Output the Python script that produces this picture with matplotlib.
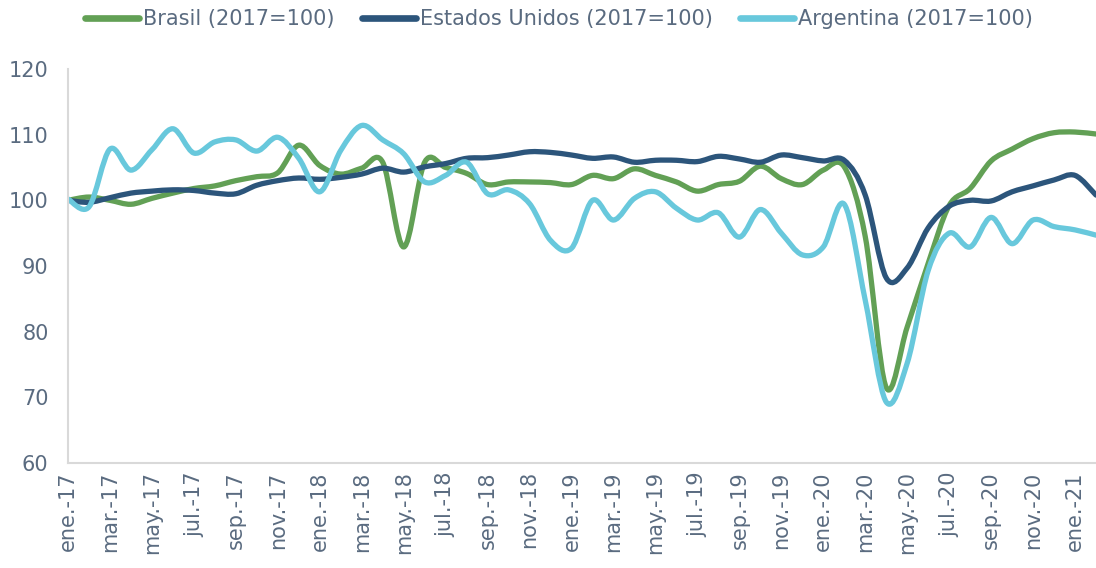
"""Monthly activity index, Brasil / Estados Unidos / Argentina (2017=100), ene.-17 to feb.-21.

Writes out.png. Lines are drawn as smoothed Bezier curves through the monthly points,
the way the original spreadsheet chart renders them.
"""

import matplotlib

matplotlib.use("Agg")
import matplotlib.pyplot as plt
import numpy as np
from matplotlib.lines import Line2D
from matplotlib.patches import PathPatch
from matplotlib.path import Path

MONTHS = ["ene", "feb", "mar", "abr", "may", "jun", "jul", "ago", "sep", "oct", "nov", "dic"]
YEARS = ["17", "18", "19", "20", "21"]
N_POINTS = 50  # ene.-17 .. feb.-21

brasil = [
    100.0, 100.5, 100.0, 99.4, 100.3, 101.1, 101.8, 102.2, 103.0, 103.6, 104.2, 108.4,
    105.3, 104.0, 104.9, 105.8, 92.9, 105.8, 105.0, 104.1, 102.4, 102.8, 102.8, 102.7,
    102.4, 103.8, 103.3, 104.8, 103.8, 102.8, 101.4, 102.4, 102.9, 105.2, 103.3, 102.4,
    104.6, 105.1, 94.5, 71.5, 80.7, 90.4, 99.2, 101.8, 106.0, 107.8, 109.4, 110.3,
    110.4, 110.1,
]
estados_unidos = [
    100.0, 99.7, 100.4, 101.1, 101.4, 101.6, 101.5, 101.1, 101.0, 102.3, 103.0, 103.4,
    103.2, 103.5, 104.0, 104.9, 104.3, 105.1, 105.6, 106.4, 106.5, 106.9, 107.4, 107.3,
    106.9, 106.4, 106.6, 105.8, 106.1, 106.1, 105.9, 106.7, 106.3, 105.8, 106.9, 106.5,
    106.0, 106.1, 100.8, 88.2, 89.7, 95.8, 99.1, 100.0, 99.9, 101.3, 102.2, 103.1,
    103.8, 100.8,
]
argentina = [
    100.2, 99.0, 107.8, 104.6, 107.7, 110.9, 107.2, 108.9, 109.2, 107.5, 109.6, 106.4,
    101.3, 107.6, 111.4, 109.2, 107.1, 102.8, 103.8, 105.8, 101.0, 101.6, 99.5, 93.9,
    92.7, 100.0, 97.0, 100.3, 101.3, 98.8, 97.0, 98.1, 94.4, 98.6, 95.0, 91.7,
    92.9, 99.4, 84.8, 69.3, 75.2, 89.3, 95.0, 92.9, 97.4, 93.4, 97.0, 96.0,
    95.5, 94.7,
]

SERIES = [
    ("Brasil (2017=100)", brasil, "#62A055"),
    ("Estados Unidos (2017=100)", estados_unidos, "#2C557B"),
    ("Argentina (2017=100)", argentina, "#68C8DC"),
]

TEXT = "#5A6B80"
AXIS = "#D9D9D9"


def month_labels():
    return [f"{m}.-{y}" for y in YEARS for m in MONTHS][:N_POINTS]


def smooth_path(x, y) -> Path:
    """Catmull-Rom through the points, expressed as cubic Bezier segments."""
    pts = np.column_stack([x, y]).astype(float)
    n = len(pts)
    verts, codes = [pts[0]], [Path.MOVETO]
    for i in range(n - 1):
        p0, p1 = pts[max(i - 1, 0)], pts[i]
        p2, p3 = pts[i + 1], pts[min(i + 2, n - 1)]
        verts += [p1 + (p2 - p0) / 6, p2 - (p3 - p1) / 6, p2]
        codes += [Path.CURVE4] * 3
    return Path(verts, codes)


def main() -> None:
    plt.rcParams["font.family"] = ["DejaVu Sans"]
    W, H = 1096, 568
    fig = plt.figure(figsize=(W / 100, H / 100), dpi=100)
    ax = fig.add_axes([68 / W, 105 / H, 1028 / W, 394 / H])

    x = np.arange(N_POINTS)
    handles = []
    for label, values, colour in SERIES:
        patch = PathPatch(smooth_path(x, values), fill=False, edgecolor=colour,
                          linewidth=3.8, capstyle="round", joinstyle="round")
        ax.add_patch(patch)
        handles.append(Line2D([], [], color=colour, linewidth=4.8,
                              solid_capstyle="round", label=label))

    ax.set_xlim(0, N_POINTS - 1)
    ax.set_ylim(60, 120)
    ax.set_yticks(range(60, 121, 10))
    labels = month_labels()
    ax.set_xticks(x[::2])
    ax.set_xticklabels(labels[::2], rotation=90, ha="center", va="top")

    for side in ("top", "right"):
        ax.spines[side].set_visible(False)
    for side in ("left", "bottom"):
        ax.spines[side].set_color(AXIS)
        ax.spines[side].set_linewidth(1.5)
    ax.tick_params(axis="y", length=0, pad=14, labelsize=15, colors=TEXT)
    ax.tick_params(axis="x", length=0, pad=6, labelsize=15, colors=TEXT)

    fig.legend(handles=handles, loc="center", bbox_to_anchor=(559 / W, 1 - 19 / H),
               ncol=3, frameon=False, fontsize=15, labelcolor=TEXT,
               handlelength=2.6, handletextpad=0.2, columnspacing=1.3)

    fig.savefig("out.png", dpi=100, facecolor="white")
    plt.close(fig)


if __name__ == "__main__":
    main()
